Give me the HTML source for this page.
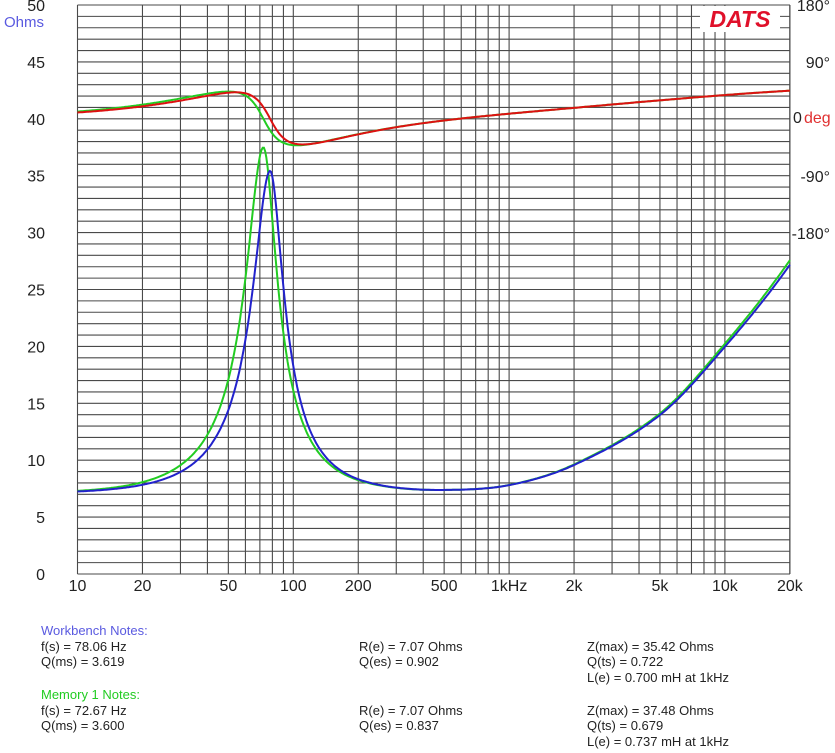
<!DOCTYPE html>
<html><head><meta charset="utf-8"><style>
body{margin:0;background:#fff;width:835px;height:753px;overflow:hidden;font-family:"Liberation Sans",Arial,sans-serif}
svg{position:absolute;left:0;top:0}
.n{position:absolute;font-size:13px;color:#222;white-space:nowrap;line-height:15px}
</style></head><body>
<svg id="s" width="835" height="753" xmlns="http://www.w3.org/2000/svg" font-family="Liberation Sans, Arial, sans-serif"></svg>
<div class="n" style="left:41px;top:623px;color:#5a5ae0">Workbench Notes:</div>
<div class="n" style="left:41px;top:639px">f(s) = 78.06 Hz</div>
<div class="n" style="left:41px;top:654px">Q(ms) = 3.619</div>
<div class="n" style="left:359px;top:639px">R(e) = 7.07 Ohms</div>
<div class="n" style="left:359px;top:654px">Q(es) = 0.902</div>
<div class="n" style="left:587px;top:639px">Z(max) = 35.42 Ohms</div>
<div class="n" style="left:587px;top:654px">Q(ts) = 0.722</div>
<div class="n" style="left:587px;top:670px">L(e) = 0.700 mH at 1kHz</div>
<div class="n" style="left:41px;top:687px;color:#22cc22">Memory 1 Notes:</div>
<div class="n" style="left:41px;top:703px">f(s) = 72.67 Hz</div>
<div class="n" style="left:41px;top:718px">Q(ms) = 3.600</div>
<div class="n" style="left:359px;top:703px">R(e) = 7.07 Ohms</div>
<div class="n" style="left:359px;top:718px">Q(es) = 0.837</div>
<div class="n" style="left:587px;top:703px">Z(max) = 37.48 Ohms</div>
<div class="n" style="left:587px;top:718px">Q(ts) = 0.679</div>
<div class="n" style="left:587px;top:734px">L(e) = 0.737 mH at 1kHz</div>
<script>
var s=document.getElementById('s'),h='';
var L=77.5,R=790,T=5,B=574,D=215.8;
function X(f){return L+Math.log10(f/10)*D}
function Y(v){return B-v*(B-T)/50}
function P(d){return 119-d*0.633}
for(var i=0;i<=50;i++){var y=Y(i);h+='<line x1="'+L+'" x2="'+R+'" y1="'+y+'" y2="'+y+'" stroke="#4a4a4a" stroke-width="1.1"/>';}
var fs=[];[10,100,1000,10000].forEach(function(d){for(var k=1;k<10;k++){if(d*k<=20000)fs.push(d*k)}});fs.push(20000);
fs.forEach(function(f){var x=X(f);h+='<line x1="'+x+'" x2="'+x+'" y1="'+T+'" y2="'+B+'" stroke="#4a4a4a" stroke-width="1.1"/>';});
h+='<rect x="700" y="6" width="80" height="26" fill="#fff"/>';
h+='<text x="740" y="27" text-anchor="middle" font-size="23" font-weight="bold" font-style="italic" fill="#e0102a">DATS</text>';
for(var v=0;v<=50;v+=5)h+='<text x="45" y="'+(Y(v)+6)+'" text-anchor="end" font-size="16" fill="#222">'+v+'</text>';
h+='<text x="4" y="27" font-size="15" fill="#5a5ae0">Ohms</text>';
var xl=[[10,'10'],[20,'20'],[50,'50'],[100,'100'],[200,'200'],[500,'500'],[1000,'1kHz'],[2000,'2k'],[5000,'5k'],[10000,'10k'],[20000,'20k']];
xl.forEach(function(a){h+='<text x="'+X(a[0])+'" y="591" text-anchor="middle" font-size="16" fill="#222">'+a[1]+'</text>';});
[[180,'180°'],[90,'90°'],[-90,'-90°'],[-180,'-180°']].forEach(function(a){h+='<text x="830" y="'+(P(a[0])+6)+'" text-anchor="end" font-size="16" fill="#222">'+a[1]+'</text>';});
h+='<text x="793" y="123" font-size="16" fill="#222">0</text><text x="804" y="123" font-size="16" fill="#e03030">deg</text>';
var tb=[[5,0],[10,0],[100,0],[200,0],[500,0.15],[1000,0.7],[2000,2.5],[5000,6.9],[10000,12.9],[20000,20.1],[40000,29]];
function extra(f){var x=Math.log(f);for(var i=1;i<tb.length-2;i++){var x1=Math.log(tb[i][0]),x2=Math.log(tb[i+1][0]);if(x<=x2+1e-9){
var x0=Math.log(tb[i-1][0]),x3=Math.log(tb[i+2][0]);var y0=tb[i-1][1],y1=tb[i][1],y2=tb[i+1][1],y3=tb[i+2][1];
var m1=(y2-y0)/(x2-x0)*(x2-x1),m2=(y3-y1)/(x3-x1)*(x2-x1);var u=(x-x1)/(x2-x1);var u2=u*u,u3=u2*u;
return (2*u3-3*u2+1)*y1+(u3-2*u2+u)*m1+(-2*u3+3*u2)*y2+(u3-u2)*m2;}}return 20.1;}
function model(fs0,zmax,gk){var Re=7.07,Rr=zmax-Re,K=23.3,n=0.72,pm='',pp='';
for(var i=0;i<=600;i++){var f=10*Math.pow(2000,i/600);var Q=f<fs0?2.8:3.6;var t=Q*(f/fs0-fs0/f);var den=1+t*t;
var re=Re+Rr/den,im=-Rr*t/den;var z=Math.sqrt(re*re+im*im)+extra(f)*gk;
var m=K*Math.pow(f/20000,n),a=n*Math.PI/2;var t2=3*(f/fs0-fs0/f),d2=1+t2*t2;var re2=Re+Rr/d2+m*Math.cos(a),im2=-Rr*t2/d2+m*Math.sin(a)*0.8;
var ph=Math.atan2(im2,re2)*180/Math.PI;
pm+=(i?'L':'M')+X(f).toFixed(1)+' '+Y(z).toFixed(1);pp+=(i?'L':'M')+X(f).toFixed(1)+' '+P(ph).toFixed(1);}
return [pm,pp];}
var g=model(72.67,37.48,1.02),b=model(78.06,35.42,1);
h+='<path d="'+g[0]+'" fill="none" stroke="#22cc22" stroke-width="2"/>';
h+='<path d="'+g[1]+'" fill="none" stroke="#22cc22" stroke-width="2"/>';
h+='<path d="'+b[0]+'" fill="none" stroke="#2222cc" stroke-width="2"/>';
h+='<path d="'+b[1]+'" fill="none" stroke="#dd1111" stroke-width="2"/>';
s.innerHTML=h;
</script>
</body></html>
